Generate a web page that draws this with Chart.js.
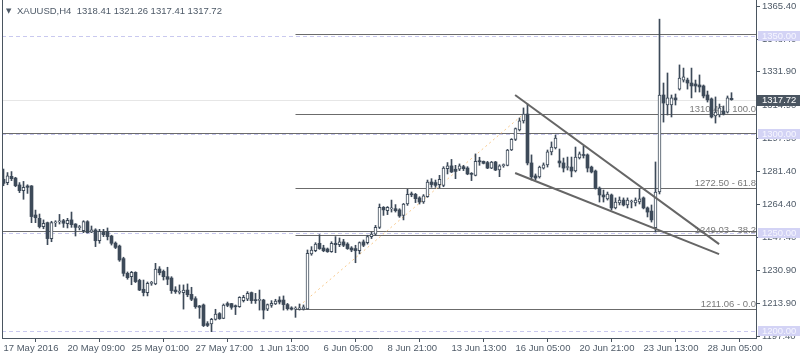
<!DOCTYPE html>
<html>
<head>
<meta charset="utf-8">
<script src="https://cdn.jsdelivr.net/npm/chart.js@4.4.1/dist/chart.umd.min.js"></script>
<style>
  html, body { margin: 0; padding: 0; background: #fff; }
  #wrap { width: 800px; height: 360px; }
</style>
</head>
<body>
<div id="wrap"><canvas id="c" width="800" height="360"></canvas></div>
<script>
// XAUUSD H4, 17 May - 28 Jun 2016, one entry per bar
const opens = [
  1277.2,1275.5,1278.7,1277.8,1274.3,1271.4,1273.8,1273.8,1259.0,1257.3,
  1253.1,1255.1,1247.0,1255.0,1255.5,1256.1,1254.6,1256.5,1254.4,1252.6,
  1251.0,1255.6,1250.3,1251.4,1245.9,1250.3,1250.7,1248.3,1244.7,1243.2,
  1236.8,1229.3,1227.6,1229.8,1225.7,1221.2,1219.5,1224.2,1223.9,1231.5,
  1230.3,1227.6,1226.9,1220.8,1219.6,1219.5,1220.8,1218.6,1216.4,1212.7,
  1213.2,1203.7,1203.5,1205.9,1208.8,1206.4,1213.9,1213.9,1212.8,1212.3,
  1215.4,1216.1,1219.5,1215.9,1215.5,1215.7,1211.0,1213.0,1213.7,1215.7,
  1215.7,1213.4,1211.7,1211.1,1211.0,1211.0,1211.2,1239.2,1240.8,1244.6,
  1242.2,1241.7,1240.3,1244.6,1243.9,1245.3,1244.2,1242.2,1241.9,1240.8,
  1245.3,1244.9,1248.0,1249.3,1252.7,1262.9,1261.2,1262.1,1262.2,1261.6,
  1258.8,1264.6,1269.4,1269.5,1267.7,1265.6,1268.3,1275.8,1275.5,1274.5,
  1274.1,1282.6,1284.0,1282.3,1282.3,1283.6,1282.9,1279.9,1279.2,1286.3,
  1286.3,1285.7,1282.9,1286.0,1281.9,1284.1,1284.3,1292.1,1297.5,1302.3,
  1306.9,1310.4,1285.5,1278.9,1278.4,1282.9,1284.5,1291.1,1293.1,1286.5,
  1285.5,1283.2,1283.4,1281.4,1288.0,1289.8,1289.6,1283.4,1281.4,1272.7,
  1269.2,1267.2,1269.2,1262.6,1265.1,1266.6,1264.1,1265.6,1265.1,1265.6,
  1267.7,1262.6,1261.0,1252.5,1270.7,1320.1,1315.0,1315.0,1318.6,1323.1,
  1327.7,1327.7,1326.2,1325.7,1325.2,1324.7,1320.1,1318.1,1309.4,1309.9,
  1311.9,1311.4,1318.41
];
const highs = [
  1282.4,1280.6,1281.1,1278.2,1275.5,1276.1,1274.4,1274.0,1261.5,1259.5,
  1256.5,1255.4,1255.8,1256.1,1259.3,1256.8,1257.3,1260.5,1254.6,1253.7,
  1256.1,1256.1,1253.4,1252.0,1251.7,1251.7,1252.4,1248.7,1245.3,1243.7,
  1237.5,1230.0,1230.3,1230.1,1226.3,1225.9,1224.9,1225.2,1234.4,1232.7,
  1231.0,1232.4,1227.6,1222.5,1223.4,1223.4,1223.9,1222.2,1217.4,1213.0,
  1213.7,1204.7,1206.4,1211.0,1209.3,1213.7,1214.7,1214.0,1213.2,1217.4,
  1218.1,1220.0,1219.8,1219.1,1220.8,1216.1,1213.7,1215.4,1216.1,1217.4,
  1217.8,1214.0,1212.3,1212.3,1213.7,1213.2,1241.2,1242.9,1244.9,1249.0,
  1243.6,1242.2,1245.4,1248.0,1247.3,1246.6,1244.9,1242.9,1243.6,1245.3,
  1246.3,1248.7,1250.4,1253.7,1264.6,1263.3,1263.3,1266.6,1264.3,1262.2,
  1264.9,1272.1,1270.7,1270.0,1268.3,1269.4,1276.8,1277.5,1276.8,1279.2,
  1283.6,1285.7,1287.3,1284.3,1285.0,1284.3,1283.6,1280.6,1290.1,1288.4,
  1286.5,1286.3,1286.3,1286.3,1284.6,1285.0,1292.4,1297.9,1303.3,1308.4,
  1313.5,1315.5,1289.6,1279.9,1283.9,1285.5,1292.1,1296.2,1299.7,1292.6,
  1288.0,1288.5,1288.5,1293.6,1291.1,1294.1,1290.1,1283.9,1281.9,1273.3,
  1271.7,1270.7,1269.7,1267.7,1268.2,1267.7,1267.7,1266.6,1267.7,1272.2,
  1268.2,1263.1,1264.1,1286.0,1358.7,1326.2,1331.3,1320.1,1320.6,1335.4,
  1333.8,1328.7,1333.8,1327.7,1330.3,1325.2,1322.1,1318.6,1319.1,1315.5,
  1314.5,1319.6,1321.26
];
const lows = [
  1273.9,1274.4,1276.5,1273.4,1270.4,1267.0,1270.0,1255.1,1255.1,1252.4,
  1252.0,1243.9,1245.4,1253.1,1254.4,1252.7,1252.4,1252.7,1248.3,1251.4,
  1250.0,1249.8,1250.0,1242.9,1244.6,1248.0,1246.3,1243.7,1241.9,1235.4,
  1227.9,1226.3,1223.5,1224.6,1220.5,1217.8,1217.8,1223.2,1223.5,1228.5,
  1225.9,1223.5,1219.1,1219.1,1218.8,1211.1,1217.4,1215.4,1211.5,1206.4,
  1202.2,1202.2,1199.6,1205.5,1205.9,1206.2,1212.3,1211.0,1208.3,1212.0,
  1214.7,1215.4,1214.0,1214.0,1210.6,1206.1,1210.3,1212.0,1213.4,1213.7,
  1210.6,1210.6,1210.6,1206.9,1210.6,1210.6,1211.0,1238.5,1240.3,1241.5,
  1240.3,1240.0,1240.0,1239.8,1242.9,1242.9,1241.5,1240.3,1234.7,1239.2,
  1242.9,1244.2,1247.0,1248.7,1252.1,1258.8,1259.2,1260.5,1260.5,1257.8,
  1256.5,1263.9,1268.3,1265.3,1264.6,1264.9,1268.0,1273.1,1273.1,1272.8,
  1273.4,1279.9,1280.6,1277.5,1281.6,1281.6,1279.5,1276.5,1278.9,1284.3,
  1285.0,1282.6,1282.6,1281.6,1278.5,1283.3,1284.0,1291.8,1296.9,1301.8,
  1305.8,1284.5,1276.8,1276.8,1277.8,1282.4,1283.4,1289.6,1292.6,1283.4,
  1280.9,1281.9,1278.4,1280.9,1287.5,1288.0,1280.9,1280.4,1272.2,1265.6,
  1265.6,1266.6,1261.6,1262.1,1264.1,1263.6,1262.6,1262.6,1263.6,1264.6,
  1262.1,1258.0,1255.4,1250.3,1269.7,1306.3,1309.9,1308.9,1315.0,1322.6,
  1326.7,1323.1,1318.6,1321.6,1321.6,1318.6,1316.5,1308.4,1305.8,1308.9,
  1309.9,1310.9,1317.41
];
const closes = [
  1275.1,1278.9,1277.5,1273.9,1271.4,1273.1,1273.1,1258.2,1257.6,1253.1,
  1254.8,1247.0,1255.1,1255.3,1255.7,1254.8,1256.3,1254.1,1252.7,1252.8,
  1255.6,1250.0,1251.4,1245.9,1250.7,1249.0,1248.0,1244.6,1242.5,1236.1,
  1229.3,1227.1,1229.8,1225.1,1220.8,1219.5,1224.2,1224.4,1231.5,1229.6,
  1227.6,1226.3,1220.5,1220.0,1219.8,1220.8,1218.4,1216.1,1212.3,1212.0,
  1202.7,1202.8,1205.9,1208.6,1206.2,1213.2,1213.0,1212.0,1212.3,1217.1,
  1217.1,1219.1,1215.4,1215.4,1215.6,1210.6,1213.4,1214.0,1215.2,1214.7,
  1213.4,1211.3,1211.0,1211.2,1211.7,1212.2,1239.5,1241.2,1244.2,1241.9,
  1240.8,1240.3,1244.6,1243.9,1245.3,1243.6,1241.9,1241.2,1240.8,1244.9,
  1243.6,1248.0,1249.3,1252.7,1262.9,1261.6,1262.9,1262.2,1261.2,1258.5,
  1264.6,1269.5,1269.3,1267.3,1265.6,1268.7,1275.8,1274.5,1274.1,1277.2,
  1282.9,1284.0,1280.9,1281.2,1284.0,1282.6,1279.9,1279.7,1286.3,1286.1,
  1285.3,1282.9,1286.0,1281.9,1284.0,1284.3,1292.1,1297.5,1303.0,1306.9,
  1310.4,1285.5,1278.4,1277.8,1283.4,1284.5,1291.1,1293.6,1298.2,1285.5,
  1282.9,1283.4,1281.4,1288.5,1290.1,1289.3,1282.9,1280.9,1272.7,1269.2,
  1268.2,1269.7,1262.6,1265.6,1266.6,1264.1,1266.6,1265.9,1266.6,1267.2,
  1262.6,1260.5,1256.5,1270.7,1320.1,1316.0,1318.6,1318.6,1317.6,1328.7,
  1329.3,1326.2,1324.7,1324.7,1324.2,1319.6,1317.6,1308.9,1311.4,1313.5,
  1310.4,1318.6,1317.72
];

// axes
const xTickIdx = [0, 16, 32, 48, 64, 80, 96, 112, 128, 144, 160, 176];
const xTickLabels = ['17 May 2016', '20 May 09:00', '25 May 01:00', '27 May 17:00', '1 Jun 13:00', '6 Jun 05:00',
  '8 Jun 21:00', '13 Jun 13:00', '16 Jun 05:00', '20 Jun 21:00', '23 Jun 13:00', '28 Jun 05:00'];
const yTicks = [1365.40, 1348.40, 1331.90, 1314.90, 1297.90, 1281.40, 1264.40, 1247.40, 1230.90, 1213.90, 1197.40];

// drawn objects
const roundLevels = [1350, 1300, 1250, 1200];
const hLines = [1300.6, 1250.8];          // full width
const topLine = 1351.0, topLineStart = 73; // starts with the fib
const fibStart = 73, fibEnd = 130;
const fibLevels = [1310.40, 1272.50, 1249.03, 1211.06];
const fibNames = ['100.0', '61.8', '38.2', '0.0'];
const upperTrend = [[127.9, 1320.1], [178.9, 1244.2]];
const lowerTrend = [[127.9, 1280.4], [178.9, 1239.1]];
const lastPrice = closes[closes.length - 1];

const dark = '#3d4a59';
const axisCol = '#4a5560';
const font = '"Liberation Sans", Arial, sans-serif';

const bodies = opens.map((o, i) => ({ x: i, y: [o, closes[i]] }));
const wicks = lows.map((l, i) => ({ x: i, y: [l, highs[i]] }));
const isBull = i => closes[i] >= opens[i];

const overlay = {
  id: 'overlay',
  beforeDatasetsDraw(chart) {
    const { ctx, chartArea: a, scales: { x, y } } = chart;
    ctx.save();
    ctx.beginPath(); ctx.rect(a.left, a.top, a.right - a.left, a.bottom - a.top); ctx.clip();
    ctx.lineWidth = 1;
    // bid line
    let py = Math.round(y.getPixelForValue(lastPrice)) + 0.5;
    ctx.strokeStyle = '#e6e6e6';
    ctx.beginPath(); ctx.moveTo(a.left, py); ctx.lineTo(a.right, py); ctx.stroke();
    // round levels
    ctx.strokeStyle = '#c9c9ef';
    ctx.setLineDash([4, 3]);
    roundLevels.forEach(v => {
      const p = Math.round(y.getPixelForValue(v)) + 0.5;
      ctx.beginPath(); ctx.moveTo(a.left, p); ctx.lineTo(a.right, p); ctx.stroke();
    });
    ctx.setLineDash([]);
    // horizontal lines
    ctx.strokeStyle = '#6b6b6b';
    hLines.forEach(v => {
      const p = Math.round(y.getPixelForValue(v)) + 0.5;
      ctx.beginPath(); ctx.moveTo(a.left, p); ctx.lineTo(a.right, p); ctx.stroke();
    });
    const tp = Math.round(y.getPixelForValue(topLine)) + 0.5;
    ctx.beginPath(); ctx.moveTo(x.getPixelForValue(topLineStart), tp); ctx.lineTo(a.right, tp); ctx.stroke();
    // fibonacci
    const fx = x.getPixelForValue(fibStart);
    fibLevels.forEach(v => {
      const p = Math.round(y.getPixelForValue(v)) + 0.5;
      ctx.beginPath(); ctx.moveTo(fx, p); ctx.lineTo(a.right, p); ctx.stroke();
    });
    ctx.strokeStyle = '#f7c98c';
    ctx.setLineDash([2, 3]);
    ctx.beginPath();
    ctx.moveTo(fx, y.getPixelForValue(fibLevels[3]));
    ctx.lineTo(x.getPixelForValue(fibEnd), y.getPixelForValue(fibLevels[0]));
    ctx.stroke();
    ctx.setLineDash([]);
    ctx.restore();
    ctx.save();
    ctx.font = '9.5px ' + font;
    ctx.fillStyle = '#7a7a7a';
    ctx.textAlign = 'right';
    ctx.textBaseline = 'alphabetic';
    fibLevels.forEach((v, k) => {
      const p = Math.round(y.getPixelForValue(v));
      ctx.fillText(v.toFixed(2) + ' - ' + fibNames[k], a.right, p - 2);
    });
    ctx.restore();
  },
  afterDatasetsDraw(chart) {
    const { ctx, chartArea: a, scales: { x, y } } = chart;
    ctx.save();
    ctx.beginPath(); ctx.rect(a.left, a.top, a.right - a.left, a.bottom - a.top); ctx.clip();
    ctx.strokeStyle = '#666666';
    ctx.lineWidth = 2;
    [upperTrend, lowerTrend].forEach(t => {
      ctx.beginPath();
      ctx.moveTo(x.getPixelForValue(t[0][0]), y.getPixelForValue(t[0][1]));
      ctx.lineTo(x.getPixelForValue(t[1][0]), y.getPixelForValue(t[1][1]));
      ctx.stroke();
    });
    ctx.restore();
  },
  afterDraw(chart) {
    const { ctx, chartArea: a, scales: { y } } = chart;
    ctx.save();
    // left frame
    ctx.strokeStyle = axisCol;
    ctx.lineWidth = 1;
    ctx.beginPath(); ctx.moveTo(a.left + 0.5, 0); ctx.lineTo(a.left + 0.5, a.bottom); ctx.stroke();
    ctx.font = '9.5px ' + font;
    ctx.textBaseline = 'middle';
    ctx.textAlign = 'left';
    // level tags on the price axis
    roundLevels.forEach(v => {
      const p = Math.round(y.getPixelForValue(v));
      ctx.fillStyle = '#d3d3f5';
      ctx.fillRect(a.right + 2, p - 5, 800 - a.right - 2, 10);
      ctx.fillStyle = '#f6f6ff';
      ctx.fillText(v.toFixed(2), a.right + 6, p + 0.5);
    });
    // bid tag
    const bp = Math.round(y.getPixelForValue(lastPrice));
    ctx.fillStyle = '#4a5561';
    ctx.fillRect(a.right + 1, bp - 5, 800 - a.right - 1, 11);
    ctx.fillStyle = '#ffffff';
    ctx.fillText(lastPrice.toFixed(2), a.right + 6, bp + 0.5);
    // title
    ctx.fillStyle = '#4d5967';
    ctx.font = '7px "DejaVu Sans", sans-serif';
    ctx.fillText('\u25BC', 6, 11);
    ctx.font = '9.5px ' + font;
    ctx.fillText('XAUUSD,H4  ' + [opens, highs, lows, closes].map(s => s[s.length - 1].toFixed(2)).join(' '), 17, 11);
    ctx.restore();
  }
};

new Chart(document.getElementById('c'), {
  type: 'bar',
  data: {
    datasets: [
      {
        label: 'body', data: bodies, grouped: false, barThickness: 3, minBarLength: 1,
        backgroundColor: c => isBull(c.dataIndex) ? '#ffffff' : dark,
        borderColor: dark,
        borderWidth: c => isBull(c.dataIndex) ? 1 : 0,
        borderSkipped: false
      },
      { label: 'wick', data: wicks, grouped: false, barThickness: 1, backgroundColor: dark, borderWidth: 0 }
    ]
  },
  options: {
    responsive: false,
    animation: false,
    layout: { padding: { left: 2, top: 0, right: 0, bottom: 0 } },
    plugins: { legend: { display: false }, tooltip: { enabled: false } },
    scales: {
      x: {
        type: 'linear', position: 'bottom', min: -0.375, max: 188.125, offset: false,
        afterBuildTicks: s => { s.ticks = xTickIdx.map(v => ({ value: v })); },
        afterFit: s => { s.height = 22; s.paddingLeft = 0; s.paddingRight = 0; },
        ticks: {
          autoSkip: false, maxRotation: 0, align: 'start', padding: 1, color: '#4f5b68',
          font: { family: font, size: 9.5 },
          callback: v => xTickLabels[xTickIdx.indexOf(v)]
        },
        grid: { drawOnChartArea: false, tickLength: 4, color: axisCol },
        border: { color: axisCol }
      },
      y: {
        position: 'right', min: 1196.382, max: 1368.455,
        afterBuildTicks: s => { s.ticks = yTicks.map(v => ({ value: v })); },
        afterFit: s => { s.width = 44; s.paddingTop = 0; s.paddingBottom = 0; },
        ticks: {
          autoSkip: false, padding: 2, color: '#4f5b68',
          font: { family: font, size: 9.5 },
          callback: v => v.toFixed(2)
        },
        grid: { drawOnChartArea: false, tickLength: 4, color: axisCol },
        border: { color: axisCol }
      }
    }
  },
  plugins: [overlay]
});
</script>
</body>
</html>
